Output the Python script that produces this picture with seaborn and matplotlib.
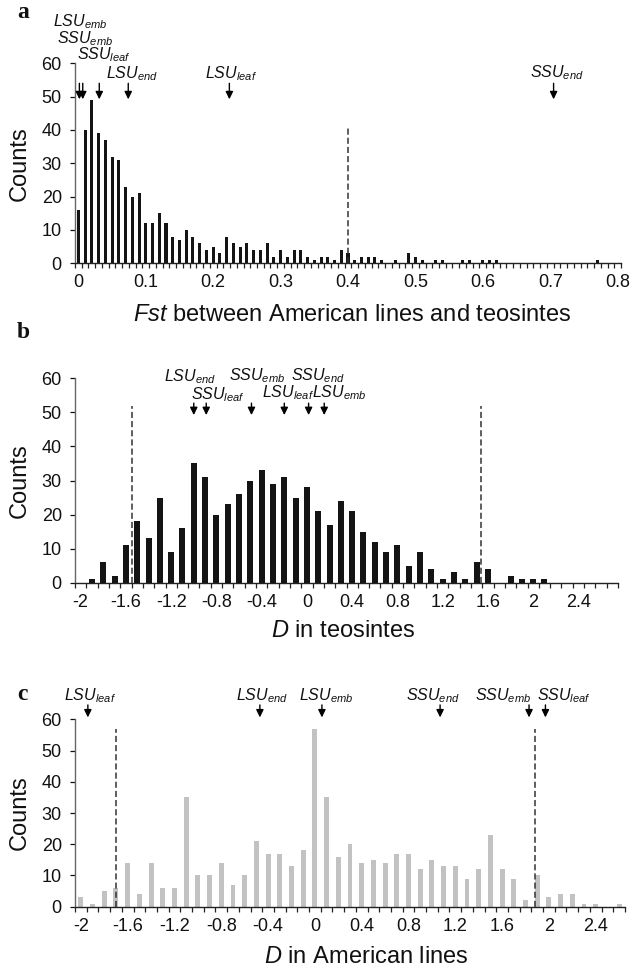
import numpy as np
import pandas as pd
import matplotlib
matplotlib.use("Agg")
import matplotlib.pyplot as plt
import seaborn as sns

# ---------------- data ----------------
# Panel a: Fst between American lines and teosintes (bins of 0.01, 0.00 .. 0.80)
fst_bins = np.round(np.arange(0, 81) * 0.01, 2)
fst_counts = [16, 40, 49, 39, 37, 32, 31, 23, 20, 21,
              12, 12, 15, 12, 8, 7, 10, 8, 6, 4,
              5, 3, 8, 6, 5, 6, 4, 4, 6, 2,
              4, 2, 4, 4, 2, 1, 2, 2, 1, 4,
              3, 1, 2, 2, 2, 1, 0, 1, 0, 3,
              2, 1, 0, 1, 1, 0, 0, 1, 1, 0,
              1, 1, 1, 0, 0, 0, 0, 0, 0, 0,
              0, 0, 0, 0, 0, 0, 0, 1, 0, 0, 0]
fst_ticks = [0, 0.1, 0.2, 0.3, 0.4, 0.5, 0.6, 0.7, 0.8]
fst_ticklabels = ["0", "0.1", "0.2", "0.3", "0.4", "0.5", "0.6", "0.7", "0.8"]
fst_cutoffs = [0.40]
fst_genes = ["LSU_emb", "SSU_emb", "SSU_leaf", "LSU_end", "LSU_leaf", "SSU_end"]
fst_gene_values = [0.0015, 0.0065, 0.031, 0.074, 0.224, 0.705]

# Panel b: D in teosintes (bins of 0.1, -2.0 .. 2.7)
dteo_bins = np.round(np.arange(-20, 28) * 0.1, 1)
dteo_counts = [0, 1, 6, 2, 11, 18, 13, 25, 9, 16,
               35, 31, 20, 23, 26, 30, 33, 29, 31, 25,
               28, 21, 17, 24, 21, 15, 12, 9, 11, 5,
               9, 4, 1, 3, 1, 6, 4, 0, 2, 1,
               1, 1, 0, 0, 0, 0, 0, 0]
dteo_cutoffs = [-1.55, 1.54]
dteo_genes = ["LSU_end", "SSU_leaf", "SSU_emb", "LSU_leaf", "SSU_end", "LSU_emb"]
dteo_gene_values = [-1.0, -0.89, -0.49, -0.20, 0.015, 0.153]

# Panel c: D in American lines (bins of 0.1, -2.0 .. 2.6)
dam_bins = np.round(np.arange(-20, 27) * 0.1, 1)
dam_counts = [3, 1, 5, 6, 14, 4, 14, 6, 6, 35,
              10, 10, 14, 7, 10, 21, 17, 17, 13, 18,
              57, 35, 16, 20, 14, 15, 14, 17, 17, 12,
              15, 13, 13, 9, 12, 23, 12, 9, 2, 10,
              3, 4, 4, 1, 1, 0, 1]
dam_cutoffs = [-1.70, 1.88]
dam_genes = ["LSU_leaf", "LSU_end", "LSU_emb", "SSU_end", "SSU_emb", "SSU_leaf"]
dam_gene_values = [-1.94, -0.47, 0.06, 1.07, 1.83, 1.97]

d_ticks = [-2, -1.6, -1.2, -0.8, -0.4, 0, 0.4, 0.8, 1.2, 1.6, 2, 2.4]
d_ticklabels = ["-2", "-1.6", "-1.2", "-0.8", "-0.4", "0", "0.4", "0.8",
                "1.2", "1.6", "2", "2.4"]
y_ticks = [0, 10, 20, 30, 40, 50, 60]

# ---------------- style ----------------
sns.set_style("ticks")
plt.rcParams["font.family"] = ["Liberation Sans", "DejaVu Sans"]
plt.rcParams["mathtext.fontset"] = "custom"
plt.rcParams["mathtext.it"] = "Liberation Sans:italic"
plt.rcParams["mathtext.rm"] = "Liberation Sans"
plt.rcParams["axes.unicode_minus"] = False

W, H = 630, 967
fig = plt.figure(figsize=(W / 100, H / 100), dpi=100)


def px_axes(left, right, top, bottom):
    return [left / W, 1 - bottom / H, (right - left) / W, (bottom - top) / H]


def sub(name):
    base, s = name.split("_")
    return r"$\mathit{%s}_{\mathit{%s}}$" % (base, s)


def style_axis(ax, xlim, ticks, ticklabels, minor_step):
    ax.set_xlim(*xlim)
    ax.set_ylim(0, 60)
    ax.set_yticks(y_ticks)
    ax.set_xticks(ticks)
    ax.set_xticklabels(ticklabels)
    minors = np.arange(xlim[0], xlim[1] + minor_step / 2, minor_step)
    ax.set_xticks(minors, minor=True)
    ax.tick_params(axis="x", which="major", length=0, pad=8, labelsize=13,
                   colors="#111111")
    ax.tick_params(axis="x", which="minor", length=3.5, width=0.9,
                   direction="out", color="#222222")
    ax.tick_params(axis="y", which="major", length=3.5, width=0.9,
                   direction="out", pad=6, labelsize=13, colors="#111111")
    sns.despine(ax=ax)
    ax.spines["left"].set_color("#666666")
    ax.spines["left"].set_linewidth(1.0)
    ax.spines["bottom"].set_color("#222222")
    ax.spines["bottom"].set_linewidth(1.0)
    ax.set_ylabel("Counts", fontsize=17, color="#111111")
    ax.yaxis.label.set_va("center")


def arrows(ax, xs, top, tip):
    for x in xs:
        ax.annotate("", xy=(x, tip), xytext=(x, top),
                    arrowprops=dict(arrowstyle="-|>,head_length=0.45,head_width=0.22",
                                    color="black", lw=1.0, shrinkA=0, shrinkB=0),
                    annotation_clip=False)


def labels(ax, names, xs, ys):
    for n, x, y in zip(names, xs, ys):
        ax.text(x, y, sub(n), ha="center", va="baseline", fontsize=11.5,
                color="#111111", clip_on=False)


def dashed(ax, xs, height):
    for x in xs:
        ax.plot([x, x], [0, height], ls=(0, (4, 2)), color="#333333", lw=1.1,
                zorder=3)


# ---------------- panel a ----------------
axa = fig.add_axes(px_axes(75, 621, 63.3, 263.3))
sns.barplot(x=fst_bins, y=fst_counts, native_scale=True, width=0.45,
            color="#141414", saturation=1, errorbar=None, linewidth=0, ax=axa)
style_axis(axa, (-0.005, 0.805), fst_ticks, fst_ticklabels, 0.01)
dashed(axa, fst_cutoffs, 41)
arrows(axa, fst_gene_values, 54, 49.2)
labels(axa, fst_genes,
       [0.0025, 0.010, 0.038, 0.080, 0.226, 0.710],
       [71.0, 66.0, 61.2, 55.6, 55.6, 55.9])
axa.set_xlabel(r"$\mathit{Fst}$ between American lines and teosintes",
               fontsize=17, color="#111111")
axa.xaxis.label.set_va("baseline")
axa.xaxis.set_label_coords(0.508, -0.2885)
axa.yaxis.set_label_coords(-55 / 546, 0.5)

# ---------------- panel b ----------------
axb = fig.add_axes(px_axes(75, 618, 378.3, 582.7))
sns.barplot(x=dteo_bins, y=dteo_counts, native_scale=True, width=0.53,
            color="#141414", saturation=1, errorbar=None, linewidth=0, ax=axb)
style_axis(axb, (-2.05, 2.75), d_ticks, d_ticklabels, 0.1)
dashed(axb, dteo_cutoffs, 52)
arrows(axb, dteo_gene_values, 52.7, 49.2)
labels(axb, dteo_genes,
       [-1.03, -0.79, -0.44, -0.17, 0.10, 0.29],
       [59.0, 53.9, 59.5, 54.4, 59.5, 54.4])
axb.set_xlabel(r"$\mathit{D}$ in teosintes", fontsize=17, color="#111111")
axb.xaxis.label.set_va("baseline")
axb.xaxis.set_label_coords(0.4945, -0.2642)
axb.yaxis.set_label_coords(-55 / 543, 0.5)

# ---------------- panel c ----------------
axc = fig.add_axes(px_axes(75, 625, 719.3, 906.7))
sns.barplot(x=dam_bins, y=dam_counts, native_scale=True, width=0.42,
            color="#c2c2c2", saturation=1, errorbar=None, linewidth=0, ax=axc)
style_axis(axc, (-2.05, 2.65), d_ticks, d_ticklabels, 0.1)
dashed(axc, dam_cutoffs, 57)
arrows(axc, dam_gene_values, 64.6, 60.6)
labels(axc, dam_genes,
       [-1.92, -0.45, 0.10, 1.01, 1.61, 2.13],
       [66.2] * 6)
axc.set_xlabel(r"$\mathit{D}$ in American lines", fontsize=17, color="#111111")
axc.xaxis.label.set_va("baseline")
axc.xaxis.set_label_coords(0.530, -0.3004)
axc.yaxis.set_label_coords(-55 / 550, 0.5)

# ---------------- panel letters ----------------
for letter, yc in (("a", 13), ("b", 333), ("c", 695)):
    fig.text(17 / W, 1 - yc / H, letter, fontsize=17, fontweight="bold",
             family="Liberation Serif", ha="left", va="center", color="#111111")

fig.savefig("out.png", dpi=100)
